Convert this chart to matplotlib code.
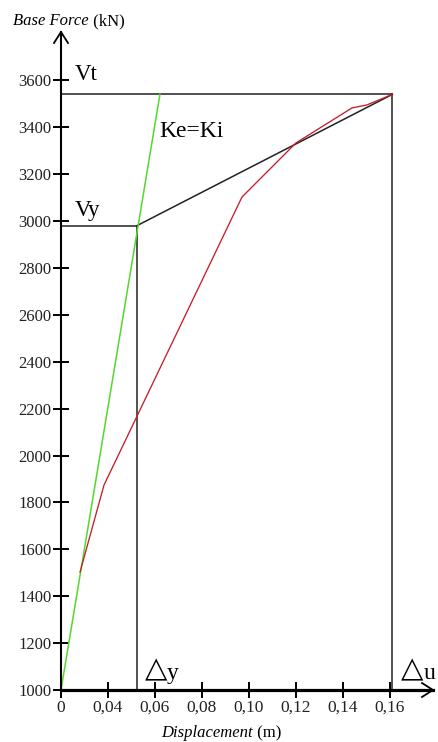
import matplotlib
matplotlib.use("Agg")
import matplotlib.pyplot as plt

# Pushover curve and its idealised bilinear approximation
disp_curve = [0.0281, 0.0383, 0.0970, 0.1200, 0.1438, 0.1502, 0.1610]
force_curve = [1503, 1874, 3102, 3333, 3482, 3495, 3540]

# Idealised values
delta_y = 0.0523
delta_u = 0.1610
V_y = 2980
V_t = 3540

# Initial stiffness line (Ke = Ki)
ke_disp = [0.0200, 0.0621]
ke_force = [1000, 3540]

x_ticks = [0.02, 0.04, 0.06, 0.08, 0.10, 0.12, 0.14, 0.16]
x_tick_labels = ["0", "0,04", "0,06", "0,08", "0,10", "0,12", "0,14", "0,16"]
y_ticks = list(range(1000, 3601, 200))
y_tick_labels = [str(v) for v in y_ticks]

SERIF = ["Liberation Serif", "DejaVu Serif"]
SYM = ["DejaVu Sans"]

W, H = 439, 742
fig = plt.figure(figsize=(W / 100, H / 100), dpi=100)
fig.patch.set_facecolor("white")

ax_l, ax_r, ax_t, ax_b = 61, 433, 32, 690
ax = fig.add_axes([ax_l / W, 1 - ax_b / H, (ax_r - ax_l) / W, (ax_b - ax_t) / H])
ax.set_xlim(0.02, 0.1783)
ax.set_ylim(1000, 3806)
ax.set_facecolor("white")

for s in ("top", "right"):
    ax.spines[s].set_visible(False)
ax.spines["left"].set_linewidth(1.5)
ax.spines["bottom"].set_linewidth(2.3)

# Open arrowheads at the ends of the axes
aw = ax_r - ax_l
ah = ax_b - ax_t
ax.plot([-7 / aw, 0, 7 / aw], [1 - 11 / ah, 1, 1 - 11 / ah], color="black",
        lw=1.3, transform=ax.transAxes, clip_on=False, solid_joinstyle="miter")
ax.plot([1 - 11 / aw, 1, 1 - 11 / aw], [7 / ah, 0, -7 / ah], color="black",
        lw=1.3, transform=ax.transAxes, clip_on=False, solid_joinstyle="miter")

ax.set_xticks(x_ticks)
ax.set_xticklabels(x_tick_labels, family=SERIF, fontsize=12.5)
ax.set_yticks(y_ticks)
ax.set_yticklabels(y_tick_labels, family=SERIF, fontsize=12)
ax.tick_params(axis="both", direction="inout", length=12, width=1.4, colors="black")
ax.tick_params(axis="y", pad=1, labelcolor="#222222")
ax.tick_params(axis="x", pad=1, labelcolor="#222222")

# Bilinear idealisation and construction lines
ax.plot([0.02, delta_u], [V_t, V_t], color="#222222", lw=1.1)
ax.plot([0.02, delta_y], [V_y, V_y], color="#222222", lw=1.1)
ax.plot([delta_y, delta_y], [1000, V_y], color="#222222", lw=1.1)
ax.plot([delta_u, delta_u], [1000, V_t], color="#222222", lw=1.1)
ax.plot([delta_y, delta_u], [V_y, V_t], color="#222222", lw=1.1)

# Stiffness line and capacity curve
ax.plot(ke_disp, ke_force, color="#52d82e", lw=1.1)
ax.plot(disp_curve, force_curve, color="#c41e2a", lw=0.95)

# Annotations
ax.text(0.0258, V_t + 60, "Vt", family=SERIF, fontsize=16.5, va="baseline", ha="left")
ax.text(0.0258, V_y + 40, "Vy", family=SERIF, fontsize=16.5, va="baseline", ha="left")
ax.text(0.0620, 3360, "Ke=Ki", family=SERIF, fontsize=17, va="baseline", ha="left")

tri_y = ax.text(0.0555, 1052, "\u25b3", family=SYM, fontsize=21, va="baseline",
                ha="left", clip_on=False)
ax.annotate("y", xy=(1, 0), xycoords=tri_y, va="bottom", ha="left",
            family=SERIF, fontsize=17, annotation_clip=False)
tri_u = ax.text(0.1648, 1052, "\u25b3", family=SYM, fontsize=21, va="baseline",
                ha="left", clip_on=False)
ax.annotate("u", xy=(1, 0), xycoords=tri_u, va="bottom", ha="left",
            family=SERIF, fontsize=17, annotation_clip=False)

# Axis titles: italic quantity, upright unit
t1 = fig.text(13 / W, 1 - 25 / H, "Base Force", family=SERIF, style="italic",
              fontsize=12, va="baseline", ha="left")
ax.annotate(" (kN)", xy=(1, 0), xycoords=t1, va="bottom", ha="left",
            family=SERIF, fontsize=12, annotation_clip=False)
t2 = fig.text(161 / W, 1 - 737 / H, "Displacement", family=SERIF, style="italic",
              fontsize=12, va="baseline", ha="left")
ax.annotate(" (m)", xy=(1, 0), xycoords=t2, va="bottom", ha="left",
            family=SERIF, fontsize=12, annotation_clip=False)

fig.savefig("out.png", dpi=100, facecolor="white")
